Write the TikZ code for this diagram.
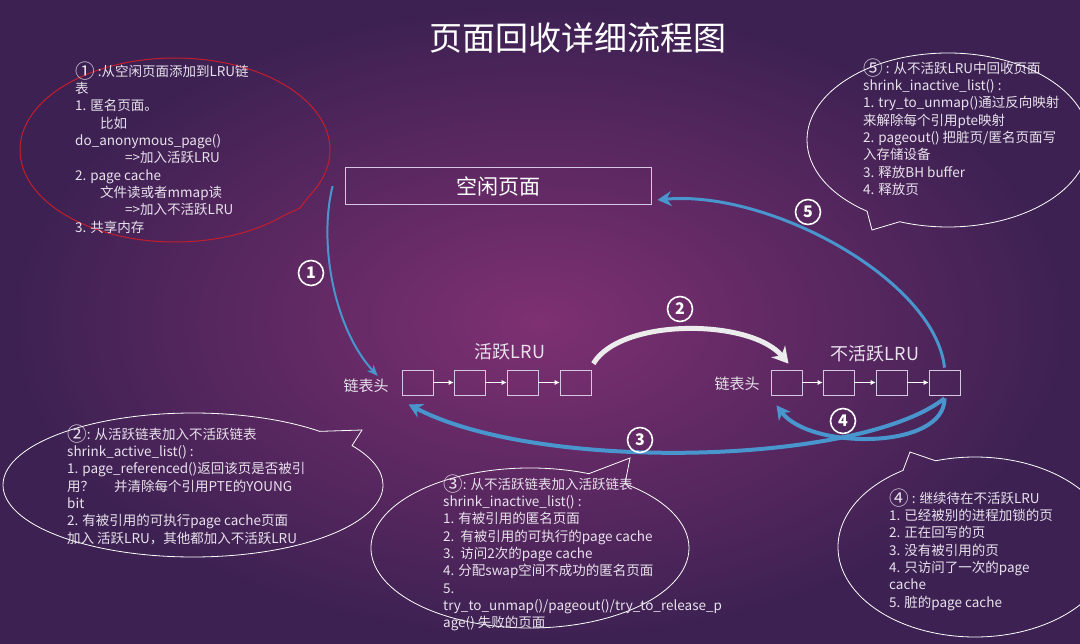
\documentclass[tikz,border=0pt]{standalone}
\usepackage{fontspec}
\setmainfont{Noto Sans CJK SC}
\usetikzlibrary{shapes.callouts,arrows.meta}

\definecolor{bgin}{RGB}{126,48,114}
\definecolor{bgout}{RGB}{60,33,82}
\definecolor{txt}{RGB}{232,226,236}
\definecolor{flowblue}{RGB}{72,150,205}
\definecolor{edge}{RGB}{214,200,224}
\definecolor{redline}{RGB}{196,30,45}

\newcommand{\cnum}[1]{\raisebox{-0.18em}{\scalebox{1.45}{#1}}}

\tikzset{
  note/.style={anchor=north west, align=left, inner sep=0pt, text=txt, font=\fontsize{13.5}{17.3}\selectfont},
  bubble/.style={ellipse callout, draw=white, line width=0.8pt, inner sep=0pt},
  pagebox/.style={draw=edge, line width=0.7pt, minimum width=31pt, minimum height=25pt, inner sep=0pt},
  link/.style={draw=white, line width=0.7pt, -{Latex[length=5pt,width=5pt]}},
  flow/.style={draw=flowblue, line width=4pt, -{Stealth[length=14pt,width=15pt]}},
  num/.style={circle, draw=white, line width=1.6pt, text=white, inner sep=0pt, minimum size=25pt, font=\bfseries\fontsize{16}{16}\selectfont},
  label/.style={text=txt, inner sep=1pt},
}

\begin{document}
\begin{tikzpicture}[x=1pt, y=-1pt]
\shade[inner color=bgin, outer color=bgout] (0,0) rectangle (1080,644);
\useasboundingbox (0,0) rectangle (1080,644);

\node[text=white, font=\fontsize{33}{33}\selectfont] (title) at (578,38) {页面回收详细流程图};
\node[draw=edge, line width=0.8pt, minimum width=306pt, minimum height=37pt, text=white, font=\fontsize{21}{21}\selectfont] (free) at (498,186) {空闲页面};

% active list
\node[label, font=\fontsize{15}{15}\selectfont] (headA) at (366,386) {链表头};
\node[label, font=\fontsize{18}{18}\selectfont] (lruA) at (510,352) {活跃LRU};
\node[pagebox] (a1) at (417.5,382.5) {};
\node[pagebox] (a2) at (469.5,382.5) {};
\node[pagebox] (a3) at (522.5,382.5) {};
\node[pagebox] (a4) at (575.5,382.5) {};
\draw[link] (a1) -- (a2);
\draw[link] (a2) -- (a3);
\draw[link] (a3) -- (a4);

% inactive list
\node[label, font=\fontsize{15}{15}\selectfont] (headI) at (737,384) {链表头};
\node[label, font=\fontsize{18}{18}\selectfont] (lruI) at (875,354) {不活跃LRU};
\node[pagebox] (i1) at (786.5,382.5) {};
\node[pagebox] (i2) at (838.5,382.5) {};
\node[pagebox] (i3) at (891.5,382.5) {};
\node[pagebox] (i4) at (944.5,382.5) {};
\draw[link] (i1) -- (i2);
\draw[link] (i2) -- (i3);
\draw[link] (i3) -- (i4);

% flows
\draw[flow, line width=2pt, -{Stealth[length=11pt,width=9pt]}] ([xshift=-12pt]free.west) .. controls (318,245) and (335,330) .. ([xshift=-12pt,yshift=2pt]headA.north east);
\draw[flow, draw=white!85!gray, line width=5pt, -{Stealth[length=16pt,width=18pt]}] ([xshift=2pt,yshift=6pt]a4.north east) .. controls (620,318) and (750,318) .. ([xshift=2pt,yshift=6pt]i1.north);
\draw[flow] ([yshift=-3pt]i4.south) .. controls (860,465) and (540,473) .. ([xshift=-9pt,yshift=-9pt]a1.south);
\draw[flow] ([yshift=-3pt]i4.south) .. controls (945,450) and (810,450) .. ([xshift=-10pt,yshift=-10pt]i1.south);
\draw[flow, line width=3pt] ([yshift=2pt]i4.north) .. controls (935,280) and (770,190) .. ([xshift=6pt,yshift=5pt]free.south east);

\node[num] (n1) at (311,273) {1};
\node[num] (n2) at (680,309) {2};
\node[num] (n3) at (640,440) {3};
\node[num] (n4) at (843,421) {4};
\node[num] (n5) at (808,212) {5};

% callouts
\node[bubble, draw=redline, line width=1pt, minimum width=310pt, minimum height=184pt, callout absolute pointer={(300,208)}] (b1) at (175,150) {};
\node[bubble, minimum width=282pt, minimum height=174pt, callout absolute pointer={(872,230)}] (b5) at (948,140) {};
\node[bubble, minimum width=380pt, minimum height=144pt, callout absolute pointer={(362,430)}] (b2) at (193,485) {};
\node[bubble, minimum width=318pt, minimum height=160pt, callout absolute pointer={(630,458)}] (b3) at (530,548) {};
\node[bubble, minimum width=274pt, minimum height=180pt, callout absolute pointer={(910,452)}] (b4) at (975,547) {};

\node[note] (t1) at (75,62) {\cnum{①} :从空闲页面添加到LRU链\\表\\1. 匿名页面。\\\hspace*{25pt}比如\\do\_anonymous\_page()\\\hspace*{50pt}=>加入活跃LRU\\2. page cache\\\hspace*{25pt}文件读或者mmap读\\\hspace*{50pt}=>加入不活跃LRU\\3. 共享内存};
\node[note] (t5) at (863,59) {\cnum{⑤} : 从不活跃LRU中回收页面\\shrink\_inactive\_list() :\\1. try\_to\_unmap()通过反向映射\\来解除每个引用pte映射\\2. pageout() 把脏页/匿名页面写\\入存储设备\\3. 释放BH buffer\\4. 释放页};
\node[note] (t2) at (67,425) {\cnum{②}: 从活跃链表加入不活跃链表\\shrink\_active\_list() :\\1. page\_referenced()返回该页是否被引\\用？\hspace*{20pt}并清除每个引用PTE的YOUNG\\bit\\2. 有被引用的可执行page cache页面\\加入 活跃LRU，其他都加入不活跃LRU};
\node[note] (t3) at (443,475) {\cnum{③}: 从不活跃链表加入活跃链表\\shrink\_inactive\_list() :\\1. 有被引用的匿名页面\\2.\ \ 有被引用的可执行的page cache\\3.\ \ 访问2次的page cache\\4. 分配swap空间不成功的匿名页面\\5.\\try\_to\_unmap()/pageout()/try\_to\_release\_p\\age() 失败的页面};
\node[note] (t4) at (889,489) {\cnum{④} : 继续待在不活跃LRU\\1. 已经被别的进程加锁的页\\2. 正在回写的页\\3. 没有被引用的页\\4. 只访问了一次的page\\cache\\5. 脏的page cache};
\end{tikzpicture}
\end{document}
